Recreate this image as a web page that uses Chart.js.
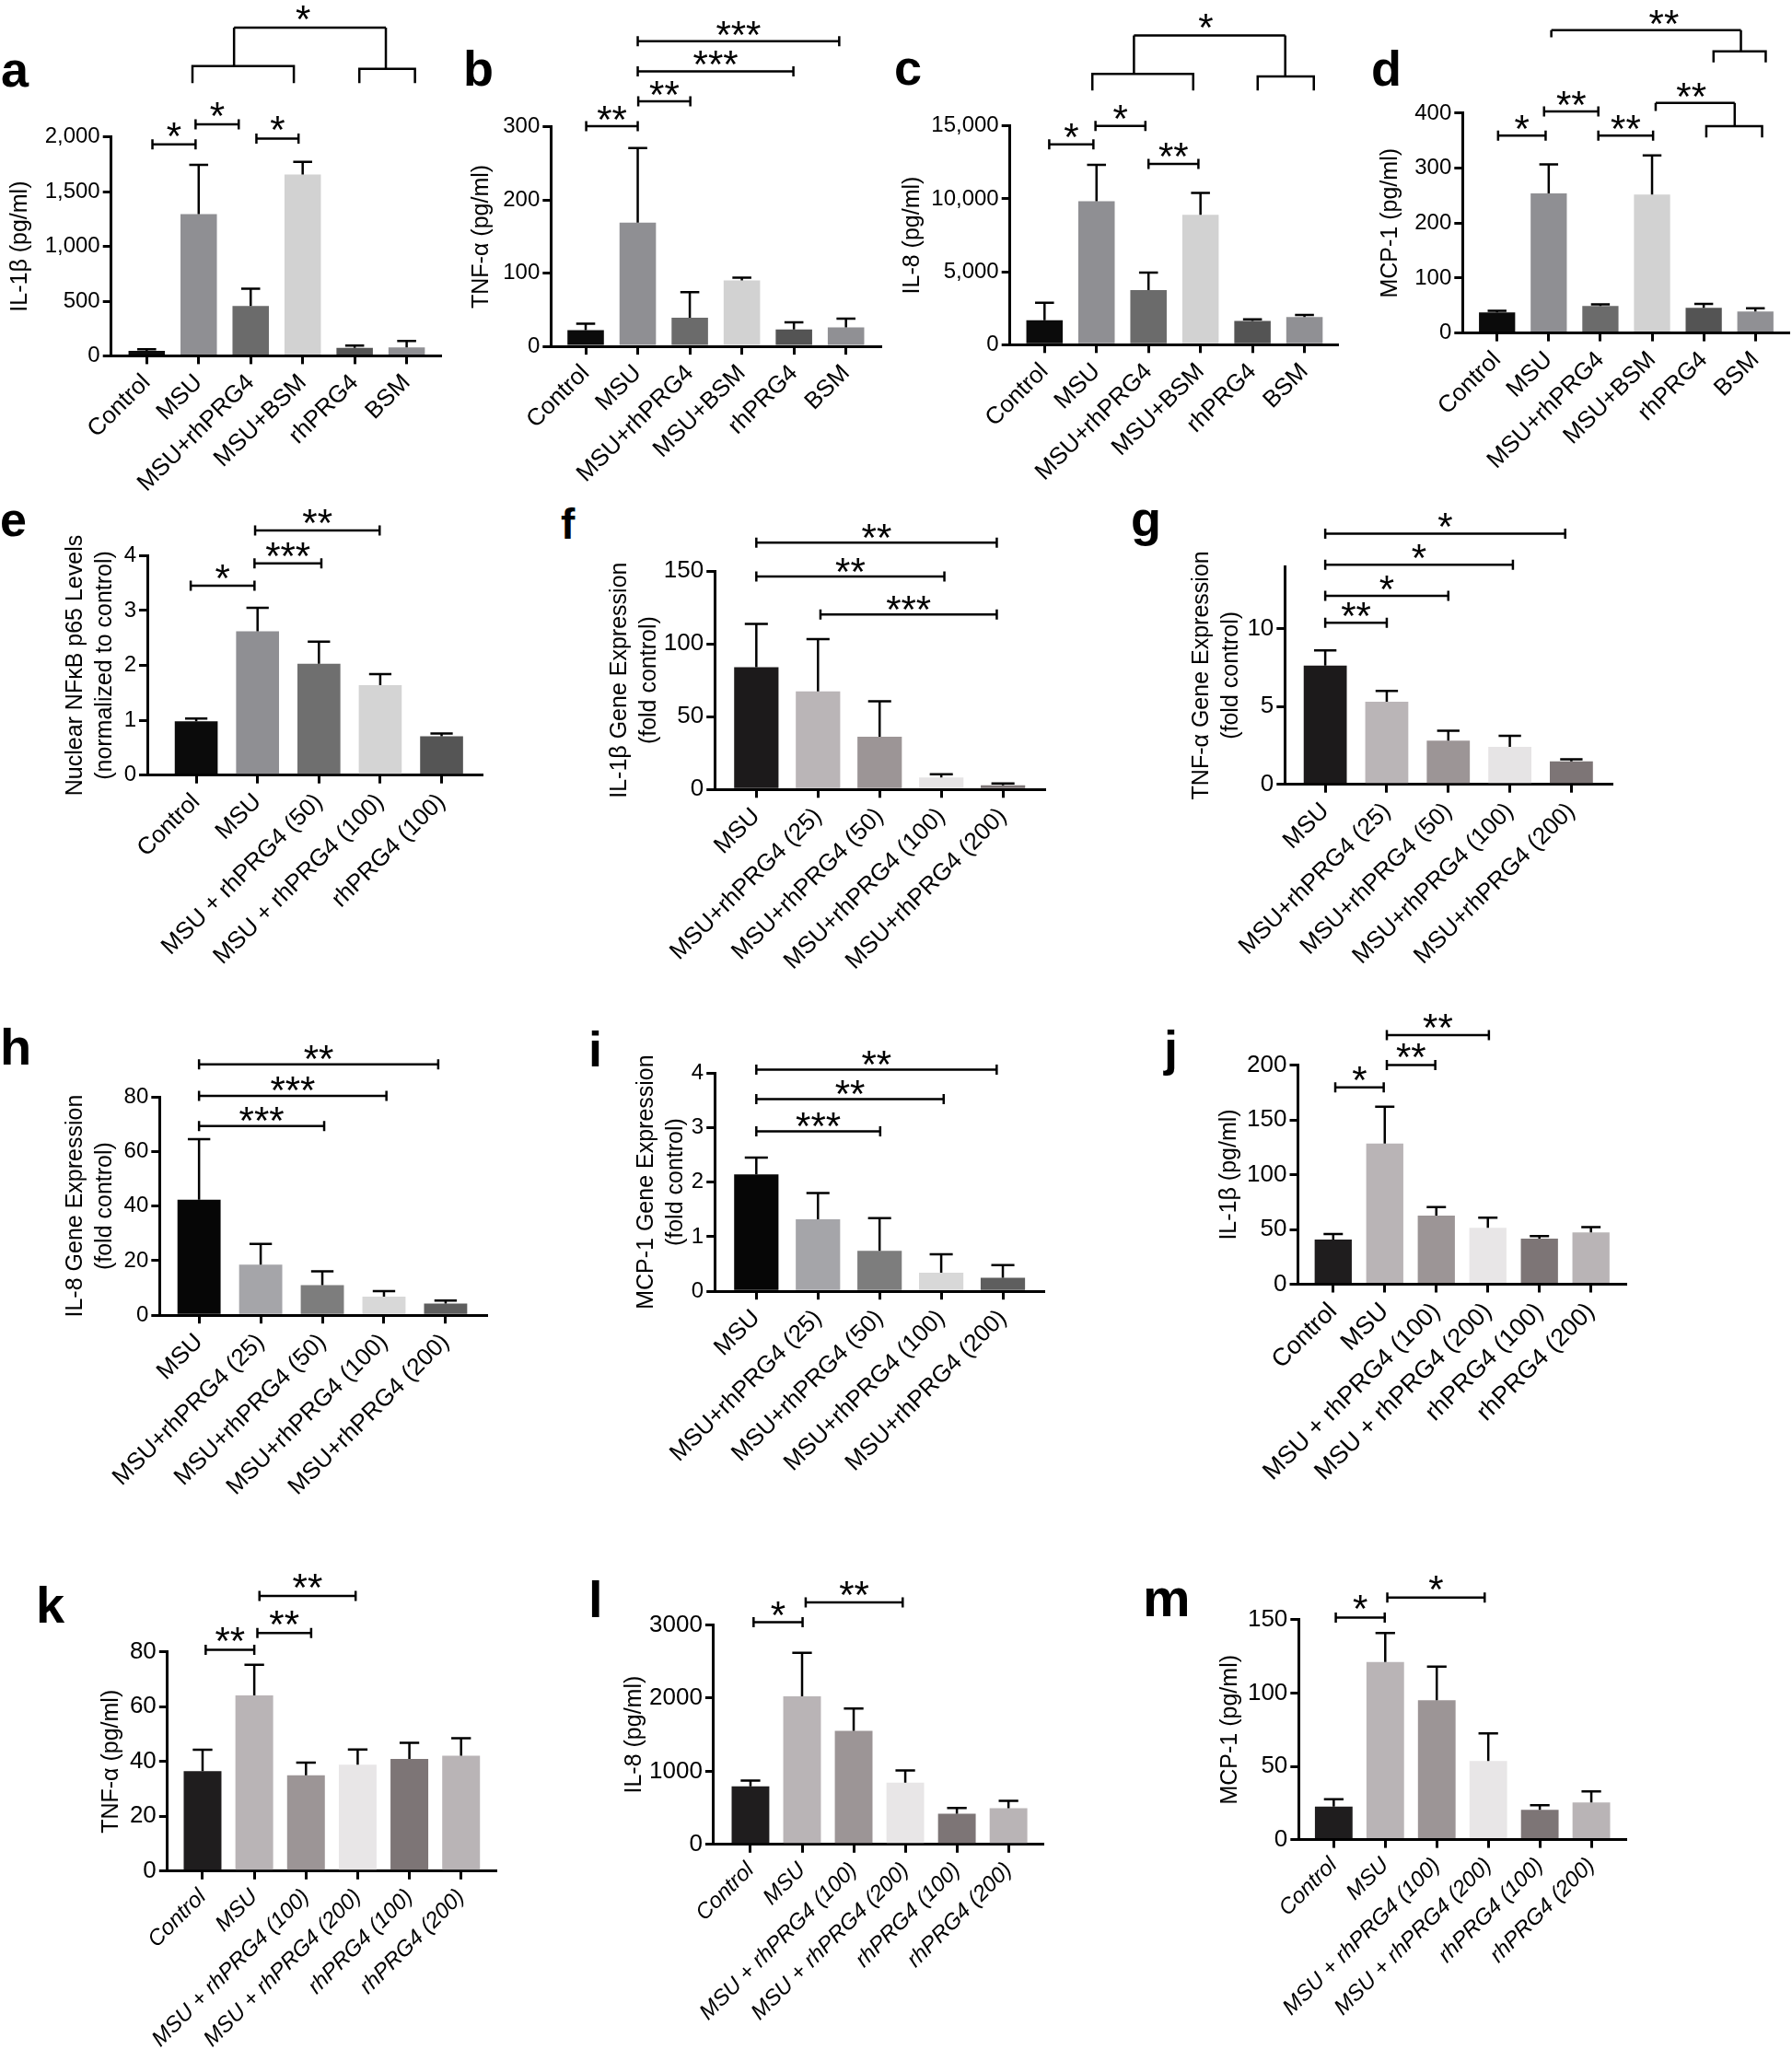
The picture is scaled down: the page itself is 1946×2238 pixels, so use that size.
<!DOCTYPE html>
<html lang="en">
<head>
<meta charset="UTF-8">
<title>rhPRG4 / MSU cytokine panels</title>
<script src="https://cdn.jsdelivr.net/npm/chart.js@4.4.1/dist/chart.umd.min.js"></script>
<style>
  body { margin: 0; background: #fff; }
  #page { position: relative; width: 1946px; height: 2238px; overflow: hidden; background: #fff; }
  #page canvas { position: absolute; }
  .lt { position: absolute; font-family: 'Liberation Sans', Arial, sans-serif; font-weight: bold; line-height: 1; color: #000; }
</style>
</head>
<body>
<div id="page"></div>
<script>
// group names
const grpBSM = ['Control', 'MSU', 'MSU+rhPRG4', 'MSU+BSM', 'rhPRG4', 'BSM'];
const grpNFkB = ['Control', 'MSU', 'MSU + rhPRG4 (50)', 'MSU + rhPRG4 (100)', 'rhPRG4 (100)'];
const grpDose = ['MSU', 'MSU+rhPRG4 (25)', 'MSU+rhPRG4 (50)', 'MSU+rhPRG4 (100)', 'MSU+rhPRG4 (200)'];
const grpProt = ['Control', 'MSU', 'MSU + rhPRG4 (100)', 'MSU + rhPRG4 (200)', 'rhPRG4 (100)', 'rhPRG4 (200)'];

// a-d : protein in supernatant (mean, SD)
const il1bA = [45, 1296, 455, 1658, 72, 78];
const il1bASd = [15, 449, 159, 116, 21, 58];
const tnfB = [22, 169, 39, 90, 23, 26];
const tnfBSd = [9, 102, 35, 4, 10, 12];
const il8C = [1670, 9830, 3740, 8910, 1630, 1890];
const il8CSd = [1200, 2500, 1200, 1500, 110, 150];
const mcp1D = [37.5, 254, 49, 252, 46, 39];
const mcp1DSd = [3, 53, 3, 71, 7, 6];
// e : nuclear NFkB p65
const nfkbE = [0.98, 2.62, 2.03, 1.64, 0.71];
const nfkbESd = [0.05, 0.43, 0.40, 0.20, 0.05];
// f-i : gene expression (fold control)
const il1bF = [84, 67.4, 36.2, 8.2, 2.9];
const il1bFSd = [29.7, 35.8, 24.3, 2.3, 1.3];
const tnfG = [7.62, 5.31, 2.81, 2.40, 1.48];
const tnfGSd = [0.98, 0.69, 0.63, 0.71, 0.13];
const il8H = [42.3, 18.5, 11.0, 6.8, 4.3];
const il8HSd = [22.2, 7.6, 5.1, 2.0, 1.1];
const mcp1I = [2.14, 1.32, 0.74, 0.34, 0.25];
const mcp1ISd = [0.31, 0.48, 0.60, 0.34, 0.23];
// j-m : protein, rhPRG4 doses
const il1bJ = [40.8, 128.3, 62.7, 51.4, 41.5, 47.3];
const il1bJSd = [4.9, 33.7, 7.7, 9.4, 2.5, 4.8];
const tnfK = [36.5, 64.1, 35.0, 38.8, 40.9, 42.1];
const tnfKSd = [7.8, 11.2, 4.6, 5.6, 5.9, 6.4];
const il8L = [792, 2024, 1553, 845, 418, 493];
const il8LSd = [79, 593, 303, 167, 79, 101];
const mcp1M = [22.6, 121.2, 95.1, 53.6, 20.4, 25.3];
const mcp1MSd = [4.9, 19.8, 23.0, 18.9, 3.1, 7.6];

// y tick values
const ticksA = [0, 500, 1000, 1500, 2000];
const ticksB = [0, 100, 200, 300];
const ticksC = [0, 5000, 10000, 15000];
const ticksD = [0, 100, 200, 300, 400];
const ticksE = [0, 1, 2, 3, 4];
const ticksF = [0, 50, 100, 150];
const ticksG = [0, 5, 10];
const ticksH = [0, 20, 40, 60, 80];
const ticksI = [0, 1, 2, 3, 4];
const ticksJ = [0, 50, 100, 150, 200];
const ticksK = [0, 20, 40, 60, 80];
const ticksL = [0, 1000, 2000, 3000];
const ticksM = [0, 50, 100, 150];

// significance bars: [from group, to group, height (axis units), label]
const sigA = [[0.11, 0.94, 1933, '*'], [0.94, 1.77, 2116, '*'], [2.11, 2.92, 1986, '*']];
const sigB = [[0.01, 1.0, 301, '**'], [1.01, 2.01, 335, '**'], [1.0, 3.99, 376, '***'], [1.0, 4.87, 417, '***']];
const sigC = [[0.09, 0.94, 13740, '*'], [0.98, 1.94, 15000, '*'], [2.0, 2.96, 12390, '**']];
const sigD = [[0.02, 0.94, 359, '*'], [0.91, 1.96, 403, '**'], [1.96, 3.02, 359, '**']];
const sigE = [[-0.09, 0.95, 3.45, '*'], [0.95, 2.04, 3.86, '***'], [0.96, 2.99, 4.46, '**']];
const sigF = [[0, 3.9, 169.4, '**'], [0, 3.05, 146.2, '**'], [1.04, 3.9, 120.1, '***']];
const sigG = [[0, 1.0, 10.37, '**'], [0, 2.0, 12.1, '*'], [0, 3.05, 14.1, '*'], [0, 3.9, 16.1, '*']];
const sigH = [[0, 2.03, 69.3, '***'], [0, 3.04, 80.3, '***'], [0, 3.88, 91.9, '**']];
const sigI = [[0, 2.01, 2.93, '***'], [0, 3.04, 3.52, '**'], [0, 3.9, 4.06, '**']];
const sigJ = [[0.04, 0.98, 179.7, '*'], [1.04, 1.98, 200, '**'], [1.04, 3.02, 227.3, '**']];
const sigK = [[0.06, 1.0, 80.8, '**'], [1.06, 2.1, 86.9, '**'], [1.1, 2.96, 100.4, '**']];
const sigL = [[0.06, 1.01, 3035, '*'], [1.07, 2.95, 3308, '**']];
const sigM = [[0.04, 0.99, 151.5, '*'], [1.04, 2.93, 165.2, '*']];
// grouped comparisons
const treeA = [{ y: 3000, label: '*', labelX: 3.01,
  left: { x1: 0.88, x2: 2.83, y: 2649, y2: 2493, stem: 1.68 },
  right: { x1: 4.09, x2: 5.16, y: 2623, y2: 2493, stem: 4.6 } }];
const treeC = [{ y: 21196, label: '*', labelX: 3.1,
  left: { x1: 0.92, x2: 2.86, y: 18565, y2: 17435, stem: 1.72 },
  right: { x1: 4.1, x2: 5.18, y: 18391, y2: 17435, stem: 4.63 } }];
const treeD = [
  { y: 418.5, label: '**', labelX: 3.76, left: { x: 3.07, y2: 404 },
    right: { x1: 4.05, x2: 5.13, y: 376.3, y2: 356, stem: 4.6 } },
  { y: 551.2, label: '**', labelX: 3.23, left: { x: 1.05, y2: 538 },
    right: { x1: 4.19, x2: 5.2, y: 512.6, y2: 492.4, stem: 4.72 } }
];

// bar shades
const shadeBSM = ['#0b0b0b', '#8f8f93', '#6b6b6b', '#d2d2d2', '#545454', '#909094'];
const shadeNFkB = ['#0b0b0b', '#8f8f93', '#6f6f6f', '#d4d4d4', '#555555'];
const shadeWarm = ['#1c1a1b', '#bab5b7', '#9c9596', '#e6e4e5', '#7d7576'];
const shadeCool = ['#060606', '#a5a5a9', '#7d7d7d', '#d8d8d8', '#5e5e5e'];
const shadeProt = ['#1f1d1e', '#b9b4b6', '#9c9596', '#e8e6e7', '#7d7576', '#b9b4b6'];

Chart.defaults.font.family = "'Liberation Sans', Arial, sans-serif";
Chart.defaults.color = '#000';

const STAR = 42;

const sigPlugin = {
  id: 'sig',
  afterDraw(chart, args, opt) {
    const ctx = chart.ctx;
    const xs = chart.scales.x, ys = chart.scales.y;
    const X = v => xs.getPixelForValue(v);
    const Y = v => ys.getPixelForValue(v);
    const ds = chart.data.datasets[0];
    const meta = chart.getDatasetMeta(0);
    ctx.save();
    ctx.strokeStyle = '#000';
    ctx.fillStyle = '#000';
    ctx.lineWidth = 2.5;
    ctx.lineJoin = 'miter';

    // upper SD whiskers
    meta.data.forEach((bar, i) => {
      const top = Y(ds.data[i].y + ds.sd[i]);
      const h = bar.width * 0.26;
      ctx.beginPath();
      ctx.moveTo(bar.x, bar.y);
      ctx.lineTo(bar.x, top);
      ctx.moveTo(bar.x - h, top);
      ctx.lineTo(bar.x + h, top);
      ctx.stroke();
    });

    ctx.font = STAR + "px 'Liberation Sans', Arial, sans-serif";
    ctx.textAlign = 'center';
    ctx.textBaseline = 'alphabetic';
    const star = (s, cx, ly) => ctx.fillText(s, cx, ly - opt.gap + 0.57 * STAR);
    const cap = 5.5;

    opt.pairs.forEach(([a, b, v, s]) => {
      const x1 = X(a), x2 = X(b), yy = Y(v);
      ctx.beginPath();
      ctx.moveTo(x1, yy); ctx.lineTo(x2, yy);
      ctx.moveTo(x1, yy - cap); ctx.lineTo(x1, yy + cap);
      ctx.moveTo(x2, yy - cap); ctx.lineTo(x2, yy + cap);
      ctx.stroke();
      star(s, (x1 + x2) / 2, yy);
    });

    opt.trees.forEach(t => {
      const top = Y(t.y);
      const foot = n => {
        if (n.x1 === undefined) {
          ctx.moveTo(X(n.x), top); ctx.lineTo(X(n.x), Y(n.y2));
          return X(n.x);
        }
        const a = X(n.x1), b = X(n.x2), h = Y(n.y), f = Y(n.y2), s = X(n.stem);
        ctx.moveTo(a, f); ctx.lineTo(a, h); ctx.lineTo(b, h); ctx.lineTo(b, f);
        ctx.moveTo(s, h); ctx.lineTo(s, top);
        return s;
      };
      ctx.beginPath();
      const l = foot(t.left), r = foot(t.right);
      ctx.moveTo(l, top); ctx.lineTo(r, top);
      ctx.stroke();
      star(t.label, t.labelX !== undefined ? X(t.labelX) : (l + r) / 2, top);
    });
    ctx.restore();
  }
};

const page = document.getElementById('page');

function letter(t, x, base, size) {
  const d = document.createElement('div');
  d.className = 'lt';
  d.textContent = t;
  d.style.fontSize = size + 'px';
  d.style.left = x + 'px';
  d.style.top = (base - 0.8465 * size) + 'px';
  page.appendChild(d);
}

function panel(cfg) {
  const [cl, ct, cr, cb] = cfg.box;
  const [L, T, R, B] = cfg.plot;
  const cv = document.createElement('canvas');
  cv.width = cr - cl;
  cv.height = cb - ct;
  cv.style.left = cl + 'px';
  cv.style.top = ct + 'px';
  page.appendChild(cv);

  const grid = () => ({ drawOnChartArea: false, color: '#000', lineWidth: 3, tickLength: 9, offset: false });
  const border = () => ({ color: '#000', width: 3 });

  new Chart(cv, {
    type: 'bar',
    data: {
      datasets: [{
        data: cfg.vals.map((v, i) => ({ x: i, y: v })),
        sd: cfg.sd,
        backgroundColor: cfg.colors,
        barPercentage: cfg.bar || 0.7,
        categoryPercentage: 1
      }]
    },
    options: {
      responsive: false,
      animation: false,
      events: [],
      layout: { padding: { left: 0, top: T - ct, right: cr - R, bottom: 0 } },
      plugins: {
        legend: { display: false },
        tooltip: { enabled: false },
        sig: { pairs: cfg.pairs || [], trees: cfg.trees || [], gap: cfg.gap || 18 }
      },
      scales: {
        x: {
          type: 'linear', offset: false, min: cfg.xr[0], max: cfg.xr[1], z: 1,
          grid: grid(), border: border(),
          ticks: {
            autoSkip: false, minRotation: 45, maxRotation: 45, padding: 5,
            font: { size: cfg.xfont || 26, style: cfg.italic ? 'italic' : 'normal' },
            callback: v => cfg.cats[v]
          },
          afterBuildTicks: s => { s.ticks = cfg.cats.map((c, i) => ({ value: i })); },
          afterFit: s => { s.height = cb - B; }
        },
        y: {
          min: 0, max: cfg.top, z: 1,
          grid: grid(), border: border(),
          ticks: {
            padding: 3, font: { size: cfg.tick || 24 },
            callback: v => cfg.comma ? v.toLocaleString('en-US') : String(v)
          },
          afterBuildTicks: s => { s.ticks = cfg.yticks.map(v => ({ value: v })); },
          title: {
            display: true, text: cfg.title,
            font: { size: 25, lineHeight: 1.28 },
            padding: { top: cfg.titleX - cl - 16, bottom: 0 }
          },
          afterFit: s => { s.width = L - cl; }
        }
      }
    },
    plugins: [sigPlugin]
  });
}

// row 1
panel({ box: [0, 0, 487, 540], plot: [120.7, 148.8, 478.3, 386.4], xr: [-0.684, 5.65], titleX: 21.7,
  title: 'IL-1β (pg/ml)', cats: grpBSM, vals: il1bA, sd: il1bASd, colors: shadeBSM,
  top: 2000, yticks: ticksA, comma: true, pairs: sigA, trees: treeA, gap: 19 });
panel({ box: [495, 0, 965, 540], plot: [598.3, 137.8, 956, 376.1], xr: [-0.667, 5.66], titleX: 523.3,
  title: 'TNF-α (pg/ml)', cats: grpBSM, vals: tnfB, sd: tnfBSd, colors: shadeBSM,
  top: 300, yticks: ticksB, pairs: sigB, gap: 17 });
panel({ box: [965, 0, 1462, 540], plot: [1096.7, 136.7, 1452.7, 374.3], xr: [-0.666, 5.64], titleX: 990.8,
  title: 'IL-8 (pg/ml)', cats: grpBSM, vals: il8C, sd: il8CSd, colors: shadeBSM,
  top: 15000, yticks: ticksC, comma: true, pairs: sigC, trees: treeC, gap: 18 });
panel({ box: [1480, 0, 1946, 540], plot: [1588.3, 122.9, 1942.7, 361.6], xr: [-0.667, 5.65], titleX: 1510,
  title: 'MCP-1 (pg/ml)', cats: grpBSM, vals: mcp1D, sd: mcp1DSd, colors: shadeBSM,
  top: 400, yticks: ticksD, pairs: sigD, trees: treeD, gap: 17 });

// row 2
panel({ box: [55, 540, 545, 1075], plot: [160, 603.3, 523.5, 841.7], xr: [-0.797, 4.66], titleX: 82.3,
  title: ['Nuclear NFκB p65 Levels', '(normalized to control)'], cats: grpNFkB, vals: nfkbE, sd: nfkbESd,
  colors: shadeNFkB, top: 4, yticks: ticksE, pairs: sigE, gap: 18 });
panel({ box: [645, 540, 1145, 1080], plot: [776.2, 620, 1134, 857.3], xr: [-0.674, 4.67], titleX: 673,
  title: ['IL-1β Gene Expression', '(fold control)'], cats: grpDose, vals: il1bF, sd: il1bFSd,
  colors: shadeWarm, top: 150, yticks: ticksF, pairs: sigF, gap: 15, tick: 26, bar: 0.72 });
panel({ box: [1280, 540, 1760, 1080], plot: [1395.3, 615, 1750.5, 851.7], xr: [-0.656, 4.66], titleX: 1305.3,
  title: ['TNF-α Gene Expression', '(fold control)'], cats: grpDose, vals: tnfG, sd: tnfGSd,
  colors: shadeWarm, top: 14, yticks: ticksG, pairs: sigG, gap: 17, tick: 26 });

// row 3
panel({ box: [55, 1080, 545, 1690], plot: [173.3, 1191, 528.1, 1428.2], xr: [-0.64, 4.66], titleX: 82.3,
  title: ['IL-8 Gene Expression', '(fold control)'], cats: grpDose, vals: il8H, sd: il8HSd,
  colors: shadeCool, top: 80, yticks: ticksH, pairs: sigH, gap: 16 });
panel({ box: [670, 1080, 1145, 1690], plot: [776.2, 1165, 1133.2, 1402.2], xr: [-0.674, 4.66], titleX: 702.6,
  title: ['MCP-1 Gene Expression', '(fold control)'], cats: grpDose, vals: mcp1I, sd: mcp1ISd,
  colors: shadeCool, top: 4, yticks: ticksI, pairs: sigI, gap: 15, bar: 0.72 });
panel({ box: [1305, 1080, 1775, 1690], plot: [1409.5, 1156.5, 1765.2, 1394.5], xr: [-0.684, 5.67], titleX: 1335,
  title: 'IL-1β (pg/ml)', cats: grpProt, vals: il1bJ, sd: il1bJSd, colors: shadeProt,
  top: 200, yticks: ticksJ, pairs: sigJ, gap: 18, tick: 26, bar: 0.72, xfont: 27 });

// row 4
panel({ box: [95, 1690, 548, 2238], plot: [181.8, 1793.8, 538.9, 2031.8], xr: [-0.68, 5.68], titleX: 121.2,
  title: 'TNF-α (pg/ml)', cats: grpProt, vals: tnfK, sd: tnfKSd, colors: shadeProt,
  top: 80, yticks: ticksK, pairs: sigK, gap: 19, tick: 26, italic: true, bar: 0.73, xfont: 24 });
panel({ box: [655, 1690, 1142, 2238], plot: [774.9, 1764.4, 1132.7, 2002.8], xr: [-0.715, 5.67], titleX: 688.8,
  title: 'IL-8 (pg/ml)', cats: grpProt, vals: il8L, sd: il8LSd, colors: shadeProt,
  top: 3000, yticks: ticksL, pairs: sigL, gap: 18, tick: 26, italic: true, bar: 0.73, xfont: 24 });
panel({ box: [1305, 1690, 1775, 2238], plot: [1410.3, 1758.9, 1765, 1997.6], xr: [-0.68, 5.66], titleX: 1336,
  title: 'MCP-1 (pg/ml)', cats: grpProt, vals: mcp1M, sd: mcp1MSd, colors: shadeProt,
  top: 150, yticks: ticksM, pairs: sigM, gap: 19, tick: 26, italic: true, bar: 0.73, xfont: 24 });

// panel letters
letter('a', 1, 94, 54);
letter('b', 503, 93, 54);
letter('c', 971, 92, 54);
letter('d', 1489, 93, 54);
letter('e', 0, 582, 52);
letter('f', 609, 585, 46);
letter('g', 1228, 582, 54);
letter('h', 0, 1156, 56);
letter('i', 639, 1158, 54);
letter('j', 1264, 1157, 54);
letter('k', 39, 1762, 56);
letter('l', 639, 1756, 56);
letter('m', 1241, 1755, 58);
</script>
</body>
</html>
